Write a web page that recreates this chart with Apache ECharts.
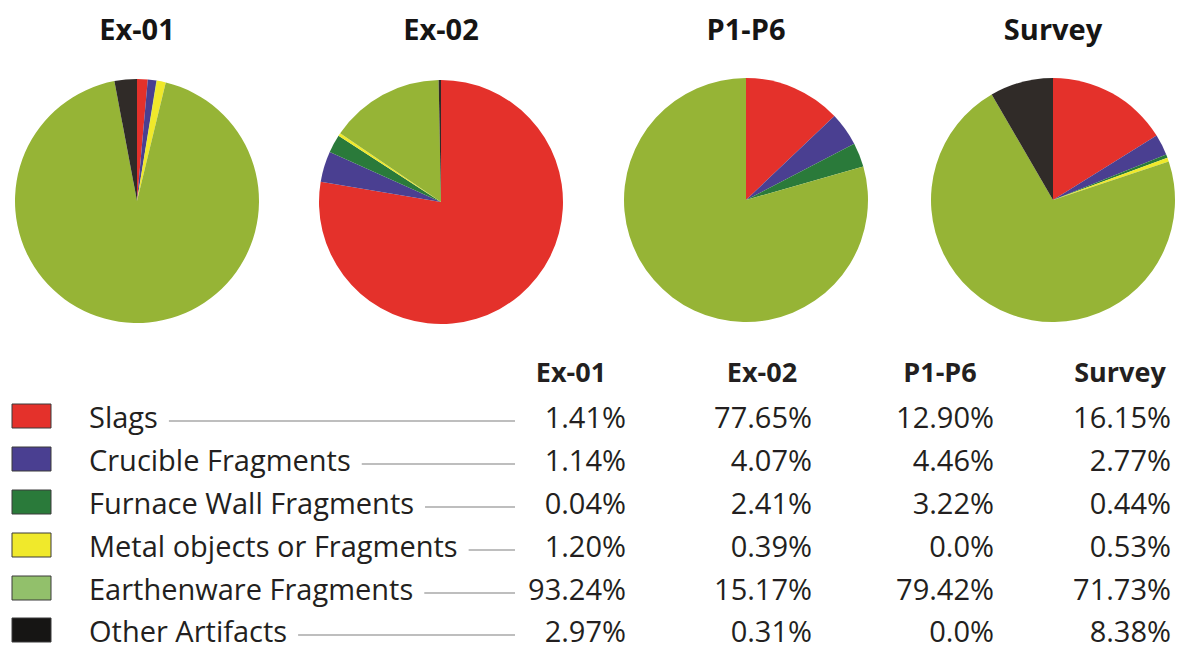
<!DOCTYPE html>
<html>
<head>
<meta charset="utf-8">
<script src="https://cdn.jsdelivr.net/npm/echarts@6/dist/echarts.min.js"></script>
<style>
  html, body { margin: 0; padding: 0; background: #ffffff; }
  #chart { width: 1178px; height: 648px; }
</style>
</head>
<body>
<div id="chart"></div>
<script>
// Artifact categories and their share (%) at each site
const categories = ['Slags', 'Crucible Fragments', 'Furnace Wall Fragments',
  'Metal objects or Fragments', 'Earthenware Fragments', 'Other Artifacts'];
const sites = ['Ex-01', 'Ex-02', 'P1-P6', 'Survey'];
const ex01 = [1.41, 1.14, 0.04, 1.20, 93.24, 2.97];
const ex02 = [77.65, 4.07, 2.41, 0.39, 15.17, 0.31];
const p1p6 = [12.90, 4.46, 3.22, 0.0, 79.42, 0.0];
const survey = [16.15, 2.77, 0.44, 0.53, 71.73, 8.38];
const siteValues = [ex01, ex02, p1p6, survey];

const pieColors = ['#e4312b', '#4a3f91', '#2a7a3a', '#f0e92b', '#96b436', '#302b28'];
const swatchColors = ['#e4312b', '#4a3f91', '#2a7a3a', '#f0e92b', '#92c06b', '#161514'];

const FONT = '"Open Sans", "Noto Sans", sans-serif';
const textColor = '#231f20';

// Pie layout
const pieCenters = [[137, 201], [441, 202], [746, 200], [1053, 200]];
const pieRadius = 122;

// Table layout
const rowY = [416, 459, 502, 545, 588, 630];
const headerY = 371;
const valueRight = [626, 812, 994, 1171];
const headerCenter = [571, 762, 940, 1120];
const labelX = 89;
const leaderEnd = 515;

function fmt(v) {
  return v === 0 ? '0.0%' : v.toFixed(2) + '%';
}

const measureCtx = document.createElement('canvas').getContext('2d');
function textWidth(str, font) {
  measureCtx.font = font;
  return measureCtx.measureText(str).width;
}

const series = siteValues.map((vals, si) => ({
  type: 'pie',
  name: sites[si],
  center: pieCenters[si],
  radius: pieRadius,
  startAngle: 90,
  clockwise: true,
  silent: true,
  label: { show: false },
  labelLine: { show: false },
  itemStyle: { borderWidth: 0 },
  emphasis: { disabled: true },
  data: vals.map((v, i) => ({
    name: categories[i],
    value: v,
    itemStyle: { color: pieColors[i] }
  }))
}));

const graphics = [];

// Pie titles
sites.forEach((s, si) => {
  graphics.push({
    type: 'text', x: pieCenters[si][0], y: 28, silent: true,
    style: {
      text: s, font: 'bold 29px ' + FONT, fill: '#161514',
      textAlign: 'center', align: 'center',
      textVerticalAlign: 'middle', verticalAlign: 'middle'
    }
  });
});

// Table header
sites.forEach((s, si) => {
  graphics.push({
    type: 'text', x: headerCenter[si], y: headerY, silent: true,
    style: {
      text: s, font: 'bold 27px ' + FONT, fill: textColor,
      textAlign: 'center', align: 'center',
      textVerticalAlign: 'middle', verticalAlign: 'middle'
    }
  });
});

// Legend rows: swatch, name, leader line, values
const labelFont = '29px ' + FONT;
const valueFont = '29px ' + FONT;
categories.forEach((c, i) => {
  const y = rowY[i];
  graphics.push({
    type: 'rect', silent: true,
    shape: { x: 12, y: y - 12, width: 39, height: 24 },
    style: { fill: swatchColors[i], stroke: '#3a3a3a', lineWidth: 1 }
  });
  graphics.push({
    type: 'text', x: labelX, y: y, silent: true,
    style: {
      text: c, font: labelFont, fill: textColor,
      textAlign: 'left', align: 'left',
      textVerticalAlign: 'middle', verticalAlign: 'middle'
    }
  });
  const start = labelX + textWidth(c, labelFont) + 11;
  graphics.push({
    type: 'line', silent: true,
    shape: { x1: start, y1: y + 5, x2: leaderEnd, y2: y + 5 },
    style: { stroke: '#a8a8a8', lineWidth: 1.5 }
  });
  siteValues.forEach((vals, si) => {
    graphics.push({
      type: 'text', x: valueRight[si], y: y, silent: true,
      style: {
        text: fmt(vals[i]), font: valueFont, fill: textColor,
        textAlign: 'right', align: 'right',
        textVerticalAlign: 'middle', verticalAlign: 'middle'
      }
    });
  });
});

const chart = echarts.init(document.getElementById('chart'), null, { renderer: 'svg' });
chart.setOption({
  animation: false,
  backgroundColor: '#ffffff',
  series: series,
  graphic: { elements: graphics }
});
</script>
</body>
</html>
